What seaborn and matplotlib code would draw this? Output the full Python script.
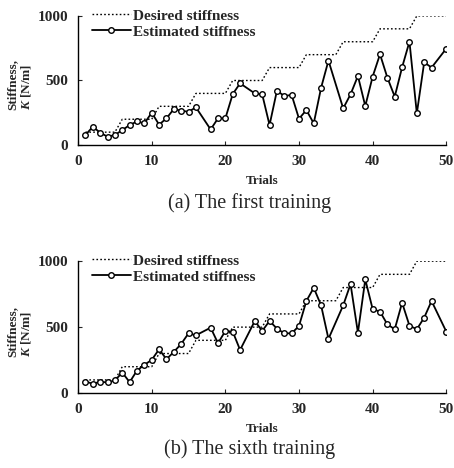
import numpy as np
import pandas as pd
import seaborn as sns
import matplotlib.pyplot as plt

# Desired stiffness: staircase, +100 N/m every 5 trials
trials_all = list(range(1, 51))
desired = [100] * 5 + [200] * 5 + [300] * 5 + [400] * 5 + [500] * 5 + \
          [600] * 5 + [700] * 5 + [800] * 5 + [900] * 5 + [1000] * 5

# Estimated stiffness (trials 17, 23, 35, 49 have no marker in the figure)
trials_est = [1, 2, 3, 4, 5, 6, 7, 8, 9, 10, 11, 12, 13, 14, 15, 16, 18, 19, 20,
              21, 22, 24, 25, 26, 27, 28, 29, 30, 31, 32, 33, 34, 36, 37, 38, 39,
              40, 41, 42, 43, 44, 45, 46, 47, 48, 50]
est_first = [78, 142, 96, 65, 78, 116, 155, 183, 168, 251, 158, 207, 279, 266, 258,
             292, 121, 207, 207, 395, 478, 400, 393, 155, 421, 380, 388, 204, 271,
             168, 444, 654, 284, 393, 535, 302, 530, 703, 522, 375, 602, 801, 245,
             641, 600, 747]
est_sixth = [88, 71, 86, 81, 96, 156, 83, 171, 214, 252, 332, 257, 312, 373, 453,
             438, 496, 378, 471, 466, 327, 547, 471, 547, 489, 453, 453, 509, 698,
             798, 665, 411, 665, 826, 458, 861, 637, 617, 521, 484, 685, 511, 484,
             572, 698, 466]

captions = ["(a) The first training", "(b) The sixth training"]

sns.set_style("ticks")
plt.rcParams['font.family'] = ['Liberation Serif', 'DejaVu Serif']
plt.rcParams['mathtext.fontset'] = 'custom'
plt.rcParams['mathtext.it'] = 'Liberation Serif:italic:bold'
plt.rcParams['mathtext.rm'] = 'Liberation Serif:bold'

fig = plt.figure(figsize=(4.54, 4.68), dpi=100)
ax1 = fig.add_axes([0.172, 0.690, 0.811, 0.276])
ax2 = fig.add_axes([0.172, 0.160, 0.811, 0.282])
caption_y = [0.566, 0.040]

for ax, est, cap, cy in zip([ax1, ax2], [est_first, est_sixth], captions, caption_y):
    sns.lineplot(x=trials_all, y=desired, ax=ax, color='k', linestyle=(0, (1.2, 1.6)),
                 linewidth=1.0, label='Desired stiffness')
    sns.lineplot(x=trials_est, y=est, ax=ax, color='k', linewidth=1.3, marker='o',
                 markersize=4, markerfacecolor='white', markeredgecolor='k',
                 markeredgewidth=1.0, label='Estimated stiffness')
    ax.set_xlim(0, 50)
    ax.set_ylim(0, 1000)
    ax.set_xticks([0, 10, 20, 30, 40, 50])
    ax.set_yticks([0, 500, 1000])
    ax.tick_params(direction='in', length=3, width=0.8, labelsize=11)
    ax.tick_params(axis='x', pad=7)
    ax.tick_params(axis='y', pad=7)
    for lab in ax.get_xticklabels() + ax.get_yticklabels():
        lab.set_fontweight('bold')
    sns.despine(ax=ax)
    for s in ['left', 'bottom']:
        ax.spines[s].set_linewidth(1.0)
        ax.spines[s].set_color('k')
    ax.set_xlabel('Trials', fontsize=9.5, fontweight='bold', labelpad=5)
    ax.set_ylabel('Stiffness,\n$K$ [N/m]', fontsize=9.5, fontweight='bold',
                  linespacing=1.05, multialignment='left')
    ax.yaxis.set_label_coords(-0.122, 0.47)
    ax.legend(loc='upper left', bbox_to_anchor=(0.02, 1.1), frameon=False,
              handlelength=2.6, handletextpad=0.1, labelspacing=0.15,
              borderaxespad=0, prop={'size': 11, 'weight': 'bold'})
    fig.text(0.55, cy, cap, ha='center', va='center', fontsize=14.5)

fig.savefig('out.png', dpi=100)
